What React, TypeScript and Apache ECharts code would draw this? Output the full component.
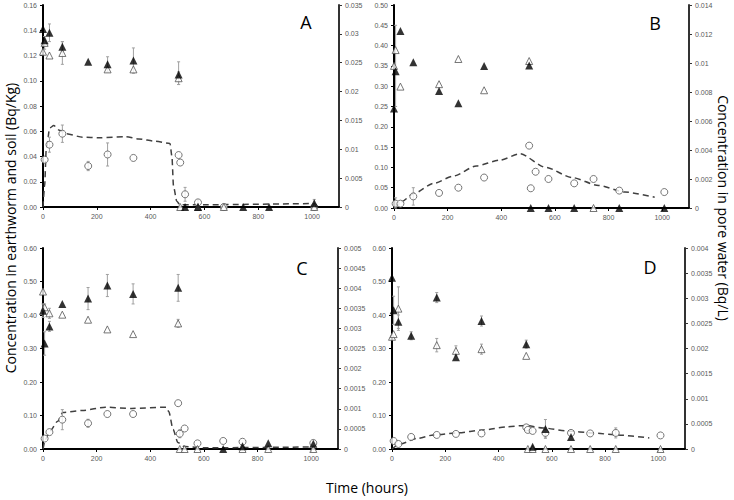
import React, { useEffect, useRef } from 'react';
import * as echarts from 'echarts';

// ---- shared ticks ----
const xTicks = [0, 200, 400, 600, 800, 1000];

// ---- Panel A ----
const aFilled = [[0,0.141],[6,0.132],[24,0.138],[72,0.127],[168,0.115],[240,0.113],[336,0.116],[504,0.105],[528,0],[576,0],[744,0],[840,0],[1008,0.003]];
const aOpen = [[0,0.123],[6,0.130],[24,0.120],[72,0.122],[240,0.109],[336,0.109],[504,0.102],[510,0],[576,0],[672,0],[1008,0]];
const aCircle = [[6,0.0082],[24,0.0108],[72,0.0127],[168,0.0071],[240,0.0091],[336,0.0085],[504,0.0090],[510,0.0077],[528,0.0022],[576,0.0008],[672,0],[1008,0]];
const aModel = [[0,0],[6,0.0036],[12,0.0099],[25,0.0137],[40,0.0141],[61,0.0133],[86,0.0127],[147,0.0121],[209,0.012],[307,0.0122],[356,0.0118],[417,0.0114],[472,0.011],[479,0.0088],[485,0.0036],[497,0.001],[509,0.0004],[600,0.0004],[1000,0.0006]];
const aErrLeft = [[24,0.138,0.007],[72,0.127,0.004],[72,0.122,0.009],[240,0.113,0.006],[336,0.116,0.010],[504,0.106,0.009],[504,0.102,0.005],[1008,0.003,0.003],[6,0.130,0.005]];
const aErrRight = [[24,0.0108,0.0013],[72,0.0127,0.0015],[168,0.0071,0.0008],[240,0.0091,0.002],[528,0.0022,0.0012],[576,0.0008,0.0004]];

// ---- Panel B ----
const bFilled = [[0,0.245],[6,0.337],[24,0.436],[72,0.359],[168,0.288],[240,0.258],[336,0.350],[504,0.351],[510,0],[576,0],[672,0],[840,0],[1008,0]];
const bOpen = [[0,0.350],[6,0.389],[24,0.299],[168,0.305],[240,0.367],[336,0.290],[504,0.362],[744,0]];
const bCircle = [[6,0.0003],[24,0.0003],[72,0.0008],[168,0.00104],[240,0.0014],[336,0.0021],[504,0.0043],[510,0.00136],[528,0.0025],[576,0.002],[672,0.0017],[744,0.002],[840,0.0012],[1008,0.0011]];
const bModel = [[0,0],[25,0.0004],[74,0.001],[148,0.0017],[221,0.0022],[307,0.0029],[394,0.0033],[470,0.00374],[566,0.0028],[664,0.0021],[763,0.00155],[861,0.0011],[972,0.00074]];
const bErrLeft = [[6,0.35,0.1]];
const bErrRight = [[72,0.0008,0.0006],[6,0.0003,0.0004]];

// ---- Panel C ----
const cFilled = [[0,0.413],[6,0.315],[24,0.366],[72,0.433],[168,0.449],[240,0.488],[336,0.463],[504,0.481],[672,0],[744,0.008],[840,0.017],[1008,0.016]];
const cOpen = [[0,0.47],[6,0.423],[24,0.405],[72,0.401],[168,0.386],[240,0.357],[336,0.343],[504,0.375],[510,0],[528,0],[576,0],[744,0],[840,0],[1008,0]];
const cCircle = [[6,0.00026],[24,0.00042],[72,0.00073],[168,0.00064],[240,0.00087],[336,0.00087],[504,0.00114],[510,0.00038],[528,0.00051],[576,0.00014],[672,0.0002],[744,0.00018],[1008,0.00015]];
const cModel = [[0,0],[9,0.00024],[25,0.00044],[55,0.00069],[74,0.00091],[147,0.00096],[233,0.00104],[331,0.00101],[460,0.00104],[469,0.00093],[485,0.00049],[503,0.00016],[528,0.00006],[600,0.00003],[1000,0.00005]];
const cErrLeft = [[6,0.315,0.035],[24,0.366,0.015],[168,0.449,0.033],[240,0.488,0.033],[336,0.463,0.03],[504,0.481,0.04],[6,0.423,0.01],[24,0.405,0.015],[504,0.375,0.012],[0,0.413,0.02]];
const cErrRight = [[72,0.00073,0.00025],[168,0.00064,0.0001],[510,0.00038,0.0001]];

// ---- Panel D ----
const dFilled = [[0,0.511],[6,0.414],[24,0.380],[72,0.338],[168,0.452],[240,0.274],[336,0.382],[504,0.313],[528,0.007],[576,0.06],[672,0.036]];
const dOpen = [[0,0.335],[6,0.343],[24,0.419],[168,0.310],[240,0.293],[336,0.298],[504,0.278],[510,0],[528,0],[576,0],[672,0],[744,0],[840,0],[1008,0]];
const dCircle = [[6,0.00016],[24,0.0001],[72,0.00024],[168,0.00028],[240,0.0003],[336,0.00031],[504,0.00043],[510,0.00038],[528,0.00036],[576,0.00032],[672,0.00032],[744,0.00031],[840,0.00032],[1008,0.00027]];
const dModel = [[0,0],[31,0.0001],[94,0.00021],[156,0.00028],[243,0.00032],[343,0.00038],[430,0.00044],[502,0.00047],[567,0.00042],[655,0.00036],[754,0.00032],[842,0.00028],[966,0.00022]];
const dErrLeft = [[6,0.414,0.042],[24,0.419,0.065],[24,0.38,0.02],[168,0.452,0.015],[168,0.31,0.02],[240,0.293,0.015],[336,0.382,0.015],[336,0.298,0.015],[504,0.313,0.012],[576,0.06,0.028],[72,0.338,0.012]];
const dErrRight = [[576,0.00032,0.0001],[840,0.00032,0.0001]];

const panels = [
  { grid: { left: 43, top: 5, width: 296, height: 202 }, lMax: 0.16, lInt: 0.02, rMax: 0.035, rInt: 0.005,
    filled: aFilled, open: aOpen, circle: aCircle, model: aModel, errL: aErrLeft, errR: aErrRight, letter: 'A', lx: 306, ly: 22 },
  { grid: { left: 394, top: 5, width: 295, height: 203 }, lMax: 0.5, lInt: 0.05, rMax: 0.014, rInt: 0.002,
    filled: bFilled, open: bOpen, circle: bCircle, model: bModel, errL: bErrLeft, errR: bErrRight, letter: 'B', lx: 655, ly: 23 },
  { grid: { left: 43, top: 248, width: 295, height: 201 }, lMax: 0.6, lInt: 0.1, rMax: 0.005, rInt: 0.0005,
    filled: cFilled, open: cOpen, circle: cCircle, model: cModel, errL: cErrLeft, errR: cErrRight, letter: 'C', lx: 302, ly: 268 },
  { grid: { left: 392, top: 248, width: 293, height: 201 }, lMax: 0.6, lInt: 0.1, rMax: 0.004, rInt: 0.0005,
    filled: dFilled, open: dOpen, circle: dCircle, model: dModel, errL: dErrLeft, errR: dErrRight, letter: 'D', lx: 650, ly: 267 },
];

const tickFont = 'Liberation Sans';
const labelColor = '#595959';

function errRender(params: any, api: any) {
  const x = api.value(0);
  const lo = api.value(1);
  const hi = api.value(2);
  const p1 = api.coord([x, lo]);
  const p2 = api.coord([x, hi]);
  const w = 1.5;
  const st = { stroke: '#a0a0a0', lineWidth: 1 };
  return {
    type: 'group',
    children: [
      { type: 'line', shape: { x1: p1[0], y1: p1[1], x2: p2[0], y2: p2[1] }, style: st },
      { type: 'line', shape: { x1: p2[0] - w, y1: p2[1], x2: p2[0] + w, y2: p2[1] }, style: st },
      { type: 'line', shape: { x1: p1[0] - w, y1: p1[1], x2: p1[0] + w, y2: p1[1] }, style: st },
    ],
  };
}

function toErr(arr: number[][]) {
  return arr.map(([t, v, e]) => [t, Math.max(0, v - e), v + e]);
}

function buildOption() {
  const grid: any[] = [];
  const xAxis: any[] = [];
  const yAxis: any[] = [];
  const series: any[] = [];
  const graphic: any[] = [];
  panels.forEach((p, i) => {
    grid.push({ ...p.grid, containLabel: false });
    xAxis.push({
      type: 'value', gridIndex: i, min: 0, max: 1100, interval: 200,
      axisLine: { show: true, onZero: false, lineStyle: { color: '#000', width: 2 } },
      axisTick: { show: true, customValues: xTicks, length: 3, lineStyle: { color: '#000' } },
      axisLabel: { customValues: xTicks, fontSize: 7, color: labelColor, fontFamily: tickFont, margin: 6, formatter: (v: number) => String(v) },
      splitLine: { show: false },
    });
    yAxis.push({
      type: 'value', gridIndex: i, min: 0, max: p.lMax, interval: p.lInt, position: 'left',
      axisLine: { show: true, lineStyle: { color: '#000', width: 2 } },
      axisTick: { show: true, length: 3, lineStyle: { color: '#000' } },
      axisLabel: { fontSize: 7, color: labelColor, fontFamily: tickFont, margin: 6, formatter: (v: number) => v.toFixed(2) },
      splitLine: { show: false },
    });
    yAxis.push({
      type: 'value', gridIndex: i, min: 0, max: p.rMax, interval: p.rInt, position: 'right',
      axisLine: { show: true, lineStyle: { color: '#333', width: 2 } },
      axisTick: { show: true, length: 3, lineStyle: { color: '#333' } },
      axisLabel: { fontSize: 7, color: labelColor, fontFamily: tickFont, margin: 6, formatter: (v: number) => String(parseFloat(v.toFixed(6))) },
      splitLine: { show: false },
    });
    const L = 2 * i, R = 2 * i + 1;
    series.push({
      type: 'line', xAxisIndex: i, yAxisIndex: R, data: p.model, showSymbol: false, symbol: 'none',
      smooth: 0.25, smoothMonotone: 'x',
      lineStyle: { color: '#404040', width: 1.5, type: [6, 4] }, z: 2,
    });
    series.push({ type: 'custom', xAxisIndex: i, yAxisIndex: L, data: toErr(p.errL), renderItem: errRender, z: 3 });
    series.push({ type: 'custom', xAxisIndex: i, yAxisIndex: R, data: toErr(p.errR), renderItem: errRender, z: 3 });
    series.push({
      type: 'scatter', xAxisIndex: i, yAxisIndex: R, data: p.circle, symbol: 'circle', symbolSize: 7,
      itemStyle: { color: '#fff', borderColor: '#555', borderWidth: 1 }, z: 4,
    });
    series.push({
      type: 'scatter', xAxisIndex: i, yAxisIndex: L, data: p.open, symbol: 'triangle', symbolSize: 7,
      itemStyle: { color: '#fff', borderColor: '#555', borderWidth: 1 }, z: 5,
    });
    series.push({
      type: 'scatter', xAxisIndex: i, yAxisIndex: L, data: p.filled, symbol: 'triangle', symbolSize: 8,
      itemStyle: { color: '#000' }, z: 6,
    });
    graphic.push({
      type: 'text', x: p.lx, y: p.ly,
      style: { text: p.letter, fontSize: 18, fontFamily: 'Open Sans', fill: '#000', align: 'center', verticalAlign: 'middle' },
    });
  });
  graphic.push({
    type: 'text', x: 10, y: 228, rotation: Math.PI / 2,
    style: { text: 'Concentration in earthworm and soil (Bq/Kg)', fontSize: 14, fontFamily: 'Open Sans', fill: '#000', align: 'center', verticalAlign: 'middle' },
  });
  graphic.push({
    type: 'text', x: 723, y: 208, rotation: -Math.PI / 2,
    style: { text: 'Concentration in pore water (Bq/L)', fontSize: 14, fontFamily: 'Open Sans', fill: '#000', align: 'center', verticalAlign: 'middle' },
  });
  graphic.push({
    type: 'text', x: 367, y: 487,
    style: { text: 'Time (hours)', fontSize: 14, fontFamily: 'Open Sans', fill: '#000', align: 'center', verticalAlign: 'middle' },
  });
  return { animation: false, backgroundColor: '#fff', grid, xAxis, yAxis, series, graphic };
}

export default function App() {
  const ref = useRef<HTMLDivElement>(null);
  useEffect(() => {
    if (!ref.current) return;
    const chart = echarts.init(ref.current, null, { renderer: 'svg' });
    chart.setOption(buildOption() as any);
    return () => chart.dispose();
  }, []);
  return <div ref={ref} style={{ position: 'fixed', left: 0, top: 0, width: 734, height: 500, background: '#fff' }} />;
}
